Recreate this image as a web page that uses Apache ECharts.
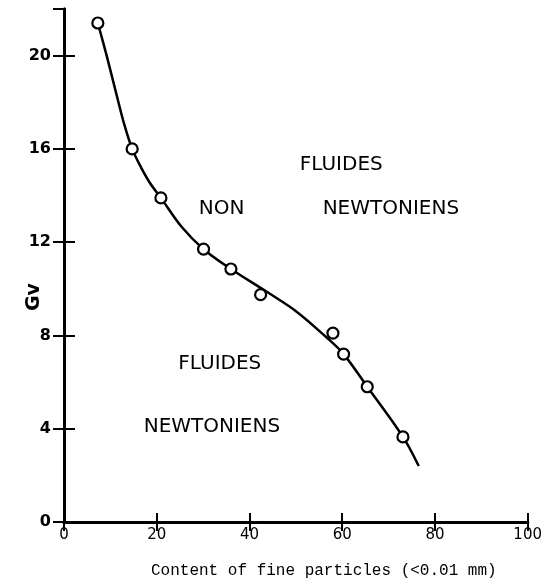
<!DOCTYPE html>
<html>
<head>
<meta charset="utf-8">
<script src="https://cdn.jsdelivr.net/npm/echarts@6/dist/echarts.min.js"></script>
<style>html,body{margin:0;padding:0;background:#fff}#c{width:545px;height:584px}</style>
</head>
<body>
<div id="c"></div>
<script>
// Measured points (fine particle content %, Gv)
const pointX = [7.3, 14.7, 20.9, 30.1, 36.0, 42.4, 58.0, 60.3, 65.4, 73.1];
const pointY = [21.4, 16.0, 13.9, 11.7, 10.85, 9.75, 8.1, 7.2, 5.8, 3.65];
// Hand-drawn fitted curve
const curveX = [7.3, 9.2, 11.3, 13.0, 14.7, 16.5, 18.5, 20.9, 25.4, 30.1, 36.0, 43.9, 50.3, 56.7, 60.3, 65.4, 73.1, 76.5];
const curveY = [21.4, 20.0, 18.35, 17.05, 16.0, 15.25, 14.55, 13.9, 12.65, 11.7, 10.85, 9.85, 9.0, 7.9, 7.2, 5.8, 3.65, 2.4];
// Region annotations
const noteText = ['FLUIDES', 'NON', 'NEWTONIENS', 'FLUIDES', 'NEWTONIENS'];
const noteX = [59.8, 34.0, 70.5, 33.6, 31.9];
const noteY = [15.3, 13.45, 13.45, 6.77, 4.09];
const xTicks = [0, 20, 40, 60, 80, 100];
const yTicks = [0, 4, 8, 12, 16, 20];

const chart = echarts.init(document.getElementById('c'), null, {renderer: 'canvas'});
chart.setOption({
  animation: false,
  backgroundColor: '#fff',
  grid: {left: 64, right: 12, top: 9, bottom: 58, containLabel: false},
  xAxis: [{
    type: 'value', min: xTicks[0], max: xTicks[xTicks.length - 1], interval: 20,
    axisLine: {show: true, lineStyle: {color: '#000', width: 3}},
    axisTick: {show: true, inside: true, length: 9, lineStyle: {color: '#000', width: 2}},
    axisLabel: {color: '#000', fontSize: 15, fontFamily: 'DejaVu Sans', margin: 6},
    splitLine: {show: false},
    name: 'Content of fine particles (<0.01 mm)',
    nameLocation: 'middle', nameGap: 41,
    nameTextStyle: {color: '#000', fontSize: 16, fontFamily: 'Liberation Mono', padding: [0, 0, 0, 56]}
  }, {
    type: 'value', position: 'top', min: 0, max: 100, interval: 20,
    axisLine: {show: true, lineStyle: {color: '#000', width: 3}},
    axisTick: {show: true, inside: true, length: 9, lineStyle: {color: '#000', width: 2}},
    axisLabel: {show: false}, splitLine: {show: false}
  }],
  yAxis: [{
    type: 'value', min: 0, max: 22, interval: 4,
    axisLine: {show: true, lineStyle: {color: '#000', width: 3}},
    axisTick: {show: true, inside: true, length: 11, lineStyle: {color: '#000', width: 2}},
    axisLabel: {color: '#000', fontSize: 16, fontWeight: 'bold', fontFamily: 'DejaVu Sans', margin: 13, showMaxLabel: false},
    splitLine: {show: false}
  }, {
    type: 'value', position: 'right', min: 0, max: 22, interval: 4,
    axisLine: {show: true, lineStyle: {color: '#000', width: 3}},
    axisTick: {show: true, inside: true, length: 11, lineStyle: {color: '#000', width: 2}},
    axisLabel: {show: false}, splitLine: {show: false}
  }],
  graphic: [{
    type: 'text', left: 25, top: 283, rotation: Math.PI / 2,
    style: {text: 'Gv', fill: '#000', font: 'bold 19px "DejaVu Sans"'}
  }],
  series: [{
    type: 'line', smooth: 0.35, symbol: 'none',
    data: curveX.map((x, i) => [x, curveY[i]]),
    lineStyle: {color: '#000', width: 2.5}, z: 2
  }, {
    type: 'scatter', symbol: 'circle', symbolSize: 11,
    data: pointX.map((x, i) => [x, pointY[i]]),
    itemStyle: {color: '#fff', borderColor: '#000', borderWidth: 2.2, opacity: 1}, z: 3
  }, {
    type: 'scatter', symbolSize: 0, silent: true,
    itemStyle: {opacity: 1},
    data: noteX.map((x, i) => ({value: [x, noteY[i]], name: noteText[i]})),
    label: {show: true, position: 'inside', formatter: p => p.name, color: '#000',
      fontSize: 20, fontFamily: 'DejaVu Sans', fontWeight: 'normal'}
  }]
});
</script>
</body>
</html>
